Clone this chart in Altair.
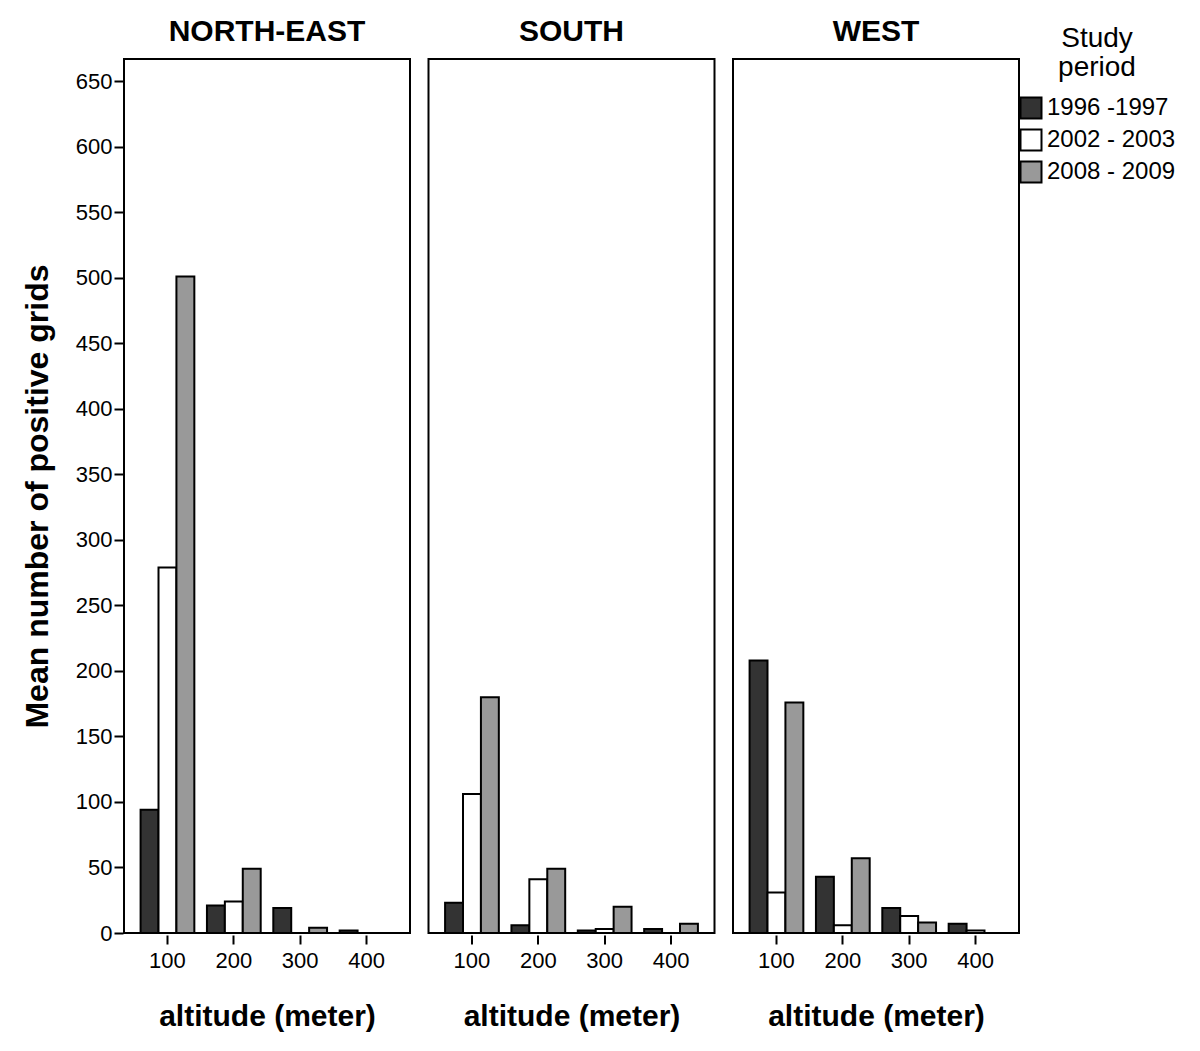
import altair as alt
import pandas as pd

regions = ["NORTH-EAST", "SOUTH", "WEST"]
altitudes = [100, 200, 300, 400]
periods = ["1996 -1997", "2002 - 2003", "2008 - 2009"]
colors = ["#333333", "#ffffff", "#999999"]

ne_1996 = [94, 21, 19, 2]
ne_2002 = [279, 24, 0, 0]
ne_2008 = [501, 49, 4, 0]
south_1996 = [23, 6, 2, 3]
south_2002 = [106, 41, 3, 0]
south_2008 = [180, 49, 20, 7]
west_1996 = [208, 43, 19, 7]
west_2002 = [31, 6, 13, 2]
west_2008 = [176, 57, 8, 0]

series = {
    "NORTH-EAST": [ne_1996, ne_2002, ne_2008],
    "SOUTH": [south_1996, south_2002, south_2008],
    "WEST": [west_1996, west_2002, west_2008],
}

rows = []
for reg in regions:
    for p, vals in zip(periods, series[reg]):
        for a, v in zip(altitudes, vals):
            if v > 0:
                rows.append({"region": reg, "period": p, "altitude": a, "value": v})
df = pd.DataFrame(rows)

FONT = "Liberation Sans"
PW, PH = 286, 874
GAP = 16.5

bars = alt.Chart(df).mark_bar(stroke="black", strokeWidth=2).encode(
    x=alt.X("altitude:O", scale=alt.Scale(domain=altitudes, paddingInner=0.19, paddingOuter=0.25),
            axis=alt.Axis(title="altitude (meter)", labelAngle=0)),
    xOffset=alt.XOffset("period:N", scale=alt.Scale(domain=periods, paddingInner=0, paddingOuter=0)),
    y=alt.Y("value:Q", scale=alt.Scale(domain=[0, 667], nice=False),
            axis=alt.Axis(title="Mean number of positive grids", values=list(range(0, 651, 50)),
                          titleFontSize=32)),
    color=alt.Color("period:N", scale=alt.Scale(domain=periods, range=colors),
                    legend=alt.Legend(title=["Study", "period"], orient="none",
                                      legendX=3 * PW + 2 * GAP + 4, legendY=-34,
                                      symbolType="square", symbolSize=441,
                                      symbolStrokeColor="black", symbolStrokeWidth=2,
                                      symbolOpacity=1,
                                      labelFontSize=24, labelFont=FONT, labelColor="black",
                                      labelOffset=4,
                                      titleFontSize=28, titleFont=FONT, titleFontWeight="normal",
                                      titleColor="black", titleAnchor="middle", titlePadding=14,
                                      titleLineHeight=29,
                                      rowPadding=2, padding=0)),
).properties(width=PW, height=PH)

chart = bars.facet(
    column=alt.Column("region:N", sort=regions,
                      header=alt.Header(title=None, labelFontSize=30, labelFontWeight="bold",
                                        labelFont=FONT, labelColor="black", labelPadding=11)),
    spacing=GAP,
).properties(padding={"left": 13, "top": 9, "right": 5, "bottom": 5}).configure_view(
    stroke="black", strokeWidth=2).configure_axis(
    labelFont=FONT, titleFont=FONT, labelColor="black", titleColor="black",
    labelFontSize=22, titleFontSize=30, titleFontWeight="bold",
    tickColor="black", tickWidth=2, tickSize=9, domain=False, grid=False,
).configure_axisY(labelPadding=2, titlePadding=21).configure_axisX(labelPadding=6, titlePadding=30)

chart.save("out.html", embed_options={"renderer": "svg", "actions": False})
